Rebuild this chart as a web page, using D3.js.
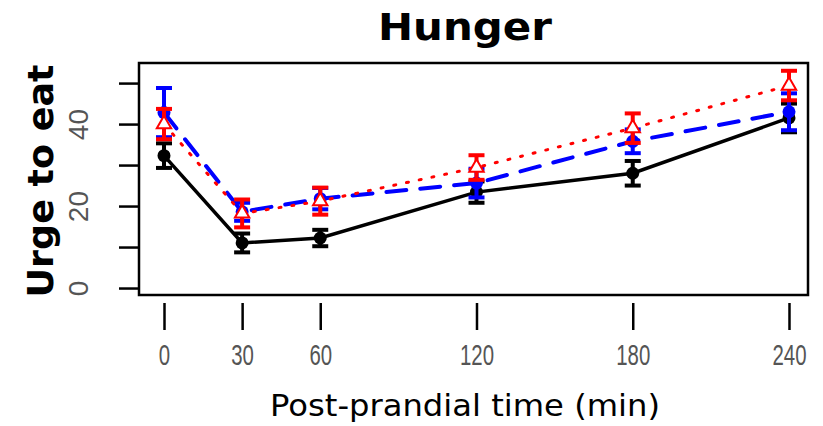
<!DOCTYPE html>
<html>
<head>
<meta charset="utf-8">
<script src="https://cdn.jsdelivr.net/npm/d3@7"></script>
<style>
  body { margin: 0; background: #fff; }
  svg { display: block; }
</style>
</head>
<body>
<div id="chart"></div>
<script>
// time points (min)
var times = [0, 30, 60, 120, 180, 240];

// group means and error bars
var blackMean = [32.3, 11, 12.2, 23.4, 28, 41.5];
var blackErr  = [3, 2.3, 2, 2.6, 3, 3.5];
var blueMean  = [42.8, 18.6, 21.8, 25.6, 35.8, 43];
var blueErr   = [6, 2.2, 2.6, 3.5, 2.9, 4.5];
var redMean   = [40, 18.2, 21.2, 29.4, 39, 49.4];
var redErr    = [3.7, 3.4, 3.3, 3, 3.6, 3.6];

var yTicks = [0, 10, 20, 30, 40, 50];
var yLabels = [0, 20, 40];

var width = 823, height = 426;
var box = {left: 139, right: 808, top: 63, bottom: 295};

var svg = d3.select("#chart").append("svg")
  .attr("width", width)
  .attr("height", height);

var x = d3.scaleLinear().domain([-9.6, 247.3]).range([box.left, box.right]);
var y = d3.scaleLinear().domain([-1.7, 54.9]).range([box.bottom, box.top]);

var titleFont = "'DejaVu Sans', Verdana, sans-serif";
var tickFont = "'Liberation Sans', Arial, sans-serif";

// title
svg.append("text")
  .attr("x", 465).attr("y", 40)
  .attr("text-anchor", "middle")
  .attr("textLength", 174).attr("lengthAdjust", "spacingAndGlyphs")
  .style("font-family", titleFont)
  .style("font-weight", "bold")
  .style("font-size", "38px")
  .text("Hunger");

// y axis title
svg.append("text")
  .attr("transform", "translate(53,181) rotate(-90)")
  .attr("text-anchor", "middle")
  .attr("textLength", 233).attr("lengthAdjust", "spacingAndGlyphs")
  .style("font-family", titleFont)
  .style("font-weight", "bold")
  .style("font-size", "35px")
  .text("Urge to eat");

// x axis title
svg.append("text")
  .attr("x", 465).attr("y", 416)
  .attr("text-anchor", "middle")
  .attr("textLength", 390).attr("lengthAdjust", "spacingAndGlyphs")
  .style("font-family", titleFont)
  .style("font-size", "30px")
  .text("Post-prandial time (min)");

// y axis
var yAxis = svg.append("g")
  .attr("transform", "translate(" + box.left + ",0)")
  .call(d3.axisLeft(y).tickValues(yTicks).tickSize(20).tickPadding(0)
    .tickFormat(function(d){ return yLabels.indexOf(d) >= 0 ? d : ""; }));
yAxis.select(".domain").remove();
yAxis.selectAll(".tick line").attr("stroke", "#000").attr("stroke-width", 2.5);
yAxis.selectAll(".tick text")
  .attr("x", null).attr("dy", null)
  .attr("text-anchor", "middle")
  .attr("transform", "translate(-51,0) rotate(-90)")
  .attr("fill", "#555")
  .style("font-family", tickFont)
  .style("font-size", "28px");

// x axis (offset below the box, no axis line)
var xAxis = svg.append("g")
  .attr("transform", "translate(0," + (box.bottom + 8) + ")")
  .call(d3.axisBottom(x).tickValues(times).tickSize(27)
    .tickFormat(function(d){ return d; }));
xAxis.select(".domain").remove();
xAxis.selectAll(".tick line").attr("stroke", "#000").attr("stroke-width", 2.5);
xAxis.selectAll(".tick text")
  .attr("y", null).attr("dy", null)
  .attr("transform", "translate(0,62) scale(0.68,1)")
  .attr("fill", "#555")
  .style("font-family", tickFont)
  .style("font-size", "30px");

// box
svg.append("rect")
  .attr("x", box.left).attr("y", box.top)
  .attr("width", box.right - box.left)
  .attr("height", box.bottom - box.top)
  .attr("fill", "none")
  .attr("stroke", "#000")
  .attr("stroke-width", 2.5);

var series = [
  {name: "black", mean: blackMean, err: blackErr, color: "#000000", dash: null, lw: 3.5, shape: "circle"},
  {name: "blue", mean: blueMean, err: blueErr, color: "#0000ff", dash: "20,14", lw: 4, shape: "circle"},
  {name: "red", mean: redMean, err: redErr, color: "#ff0000", dash: "2,11", lw: 3, shape: "triangle"}
];

var line = d3.line()
  .x(function(d){ return x(d.t); })
  .y(function(d){ return y(d.m); });

series.forEach(function(s){
  var pts = times.map(function(t, i){ return {t: t, m: s.mean[i], e: s.err[i]}; });
  var g = svg.append("g").attr("class", "series-" + s.name);

  g.append("path")
    .datum(pts)
    .attr("d", line)
    .attr("fill", "none")
    .attr("stroke", s.color)
    .attr("stroke-width", s.lw)
    .attr("stroke-dasharray", s.dash)
    .attr("stroke-linecap", s.dash ? "round" : "butt");

  // error bars
  g.selectAll(".bar").data(pts).enter().append("line")
    .attr("x1", function(d){ return x(d.t); })
    .attr("x2", function(d){ return x(d.t); })
    .attr("y1", function(d){ return y(d.m - d.e); })
    .attr("y2", function(d){ return y(d.m + d.e); })
    .attr("stroke", s.color).attr("stroke-width", 4);
  g.selectAll(".capTop").data(pts).enter().append("line")
    .attr("x1", function(d){ return x(d.t) - 8; })
    .attr("x2", function(d){ return x(d.t) + 8; })
    .attr("y1", function(d){ return y(d.m + d.e); })
    .attr("y2", function(d){ return y(d.m + d.e); })
    .attr("stroke", s.color).attr("stroke-width", 4);
  g.selectAll(".capBot").data(pts).enter().append("line")
    .attr("x1", function(d){ return x(d.t) - 8; })
    .attr("x2", function(d){ return x(d.t) + 8; })
    .attr("y1", function(d){ return y(d.m - d.e); })
    .attr("y2", function(d){ return y(d.m - d.e); })
    .attr("stroke", s.color).attr("stroke-width", 4);

  // markers
  if (s.shape === "circle") {
    g.selectAll(".pt").data(pts).enter().append("circle")
      .attr("cx", function(d){ return x(d.t); })
      .attr("cy", function(d){ return y(d.m); })
      .attr("r", 6.5)
      .attr("fill", s.color);
  } else {
    var tri = d3.symbol().type(d3.symbolTriangle).size(90);
    g.selectAll(".pt").data(pts).enter().append("path")
      .attr("d", tri)
      .attr("transform", function(d){ return "translate(" + x(d.t) + "," + y(d.m) + ")"; })
      .attr("fill", "#fff")
      .attr("stroke", s.color)
      .attr("stroke-width", 2);
  }
});
</script>
</body>
</html>
